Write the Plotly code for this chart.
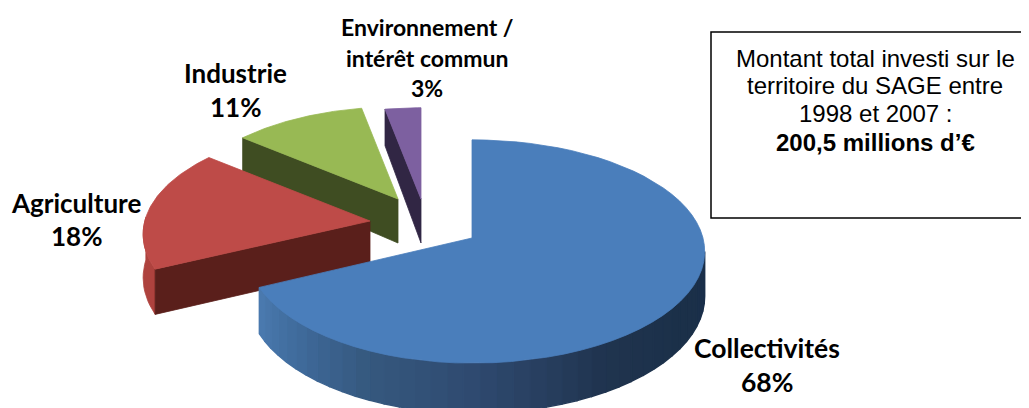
import math
import plotly.graph_objects as go

categories = ["Collectivités", "Agriculture", "Industrie", "Environnement / intérêt commun"]
shares = [68, 18, 11, 3]
label_lines = [["Collectivités", "68%"], ["Agriculture", "18%"], ["Industrie", "11%"],
               ["Environnement /", "intérêt commun", "3%"]]
box_lines = ["Montant total investi sur le", "territoire du SAGE entre", "1998 et 2007 :", "<b>200,5 millions d’€</b>"]

top_colors = ["#4A7EBB", "#BE4B48", "#98B954", "#7D60A0"]
wall_colors = [None, "#5A1F1B", "#3F4D22", "#312644"]
apexes = [(472, 238), (370, 221), (398, 199), (421, 199)]
scales = [1.0, 0.975, 0.94, 0.93]
left_squeeze = [0.965, 1.0, 1.0, 1.0]
R, RY, K, DEPTH = 231, 110, 0.121, 44
blue_stops = [(97, "#1A2F4A"), (125, "#1B3049"), (150, "#20344F"), (180, "#2F4A70"),
              (205, "#36597F"), (225, "#3F6A9B"), (245, "#4B7BB0")]

fig = go.Figure()


def proj(idx, t_deg, drop=0.0):
    apex, scale = apexes[idx], scales[idx]
    t = math.radians(t_deg)
    w = scale / (1 + K * math.cos(t))
    sx = math.sin(t)
    if sx < 0:
        sx *= left_squeeze[idx]
    return (apex[0] + R * sx * w,
            apex[1] - RY * math.cos(t) * w + drop * w)


def poly(pts, color, lw=0.8):
    xs = [p[0] for p in pts] + [pts[0][0]]
    ys = [p[1] for p in pts] + [pts[0][1]]
    fig.add_trace(go.Scatter(x=xs, y=ys, mode="lines", fill="toself", fillcolor=color,
                             line=dict(color=color, width=lw), hoverinfo="skip", showlegend=False))


def mix(t):
    for (a, ca), (b, cb) in zip(blue_stops, blue_stops[1:]):
        if a <= t <= b:
            f = (t - a) / (b - a)
            c = [round(int(ca[i:i + 2], 16) * (1 - f) + int(cb[i:i + 2], 16) * f) for i in (1, 3, 5)]
            return "#%02X%02X%02X" % tuple(c)
    return blue_stops[-1][1]


def arc(a, b, n=60):
    return [a + (b - a) * i / n for i in range(n + 1)]


bounds = []
acc = 0
for s in shares:
    bounds.append((acc * 3.6, (acc + s) * 3.6))
    acc += s

# back to front: purple, green, red, blue
for idx in [3, 2, 1, 0]:
    t0, t1 = bounds[idx]
    apex = apexes[idx]
    if idx == 0:
        ts = arc(97, t1, 40)
        for a, b in zip(ts, ts[1:]):
            poly([proj(idx, a), proj(idx, b), proj(idx, b, DEPTH), proj(idx, a, DEPTH)],
                 mix((a + b) / 2), 1.4)
    if idx == 1:
        outer = arc(t0, 272, 12)
        poly([proj(idx, t) for t in outer] +
             [proj(idx, t, DEPTH) for t in reversed(outer)], "#AE423E")
    if idx in (1, 2, 3):
        # the cut face turned toward the viewer
        poly([apex, proj(idx, t0), proj(idx, t0, DEPTH), (apex[0], apex[1] + DEPTH)],
             wall_colors[idx])
    poly([apex] + [proj(idx, t) for t in arc(t0, t1)], top_colors[idx])

label_pos = [(767, [348, 382]), (76, [203, 236]), (235, [73, 107]), (427, [27, 58, 88])]
label_size = [26.5, 26, 26, 23]
annotations = []
for lines, (cx, ys), fs in zip(label_lines, label_pos, label_size):
    for line, y in zip(lines, ys):
        annotations.append(dict(x=cx, y=y, text=f"<b>{line}</b>", showarrow=False, xref="x", yref="y",
                                font=dict(family="Lato", size=fs, color="#000000")))
for line, y in zip(box_lines, [58, 85.5, 113, 142]):
    annotations.append(dict(x=875, y=y, text=line, showarrow=False, xref="x", yref="y",
                            font=dict(family="Liberation Sans", size=24, color="#000000")))

# the page keeps an 8 px body margin, so the plot covers pixels 8..1029 and 8..408
fig.update_layout(
    width=1021, height=400, margin=dict(l=0, r=0, t=0, b=0),
    paper_bgcolor="#FFFFFF", plot_bgcolor="#FFFFFF", showlegend=False,
    xaxis=dict(range=[8, 1029], visible=False, fixedrange=True),
    yaxis=dict(range=[408, 8], visible=False, fixedrange=True),
    annotations=annotations,
    shapes=[dict(type="rect", x0=711, y0=32, x1=1035, y1=218, xref="x", yref="y",
                 line=dict(color="#000000", width=1.5), fillcolor="rgba(0,0,0,0)")],
)
fig.write_html("out.html")
